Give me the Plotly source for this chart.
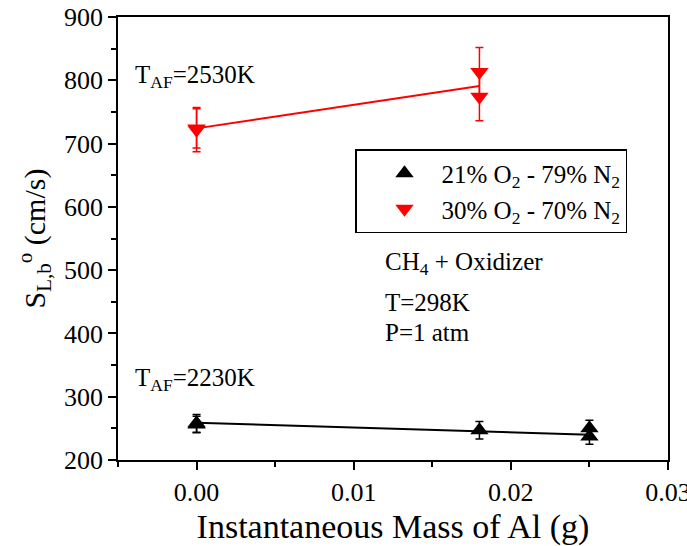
import plotly.graph_objects as go

# Laminar burning velocity vs. instantaneous Al mass
# 21% O2 - 79% N2 oxidizer
air_mass = [0.0, 0.0, 0.018, 0.025, 0.025]
air_speed = [258, 256, 247, 250, 237]
air_err = [14, 13, 14, 13, 12]

# 30% O2 - 70% N2 oxidizer
enr_mass = [0.0, 0.0, 0.018, 0.018]
enr_speed = [722, 724, 813, 774]
enr_err = [35, 31, 39, 38]

# Linear fits (end points)
air_fit_x = [0.0, 0.025]
air_fit_y = [259, 240]
enr_fit_x = [0.0, 0.018]
enr_fit_y = [724, 791]

# Axis ticks
x_ticks = [0.0, 0.01, 0.02, 0.03]
x_ticklabels = ["0.00", "0.01", "0.02", "0.03"]
x_minor = [-0.005, 0.005, 0.015, 0.025]
y_ticks = [200, 300, 400, 500, 600, 700, 800, 900]
y_minor = [250, 350, 450, 550, 650, 750, 850]

FONT = "Liberation Serif"

fig = go.Figure()

fig.add_trace(go.Scatter(x=air_fit_x, y=air_fit_y, mode="lines",
                         line=dict(color="black", width=2), showlegend=False,
                         hoverinfo="skip"))
fig.add_trace(go.Scatter(x=enr_fit_x, y=enr_fit_y, mode="lines",
                         line=dict(color="#ff0000", width=2), showlegend=False,
                         hoverinfo="skip"))

fig.add_trace(go.Scatter(
    x=air_mass, y=air_speed, mode="markers",
    name="21% O<sub>2</sub> - 79% N<sub>2</sub>",
    marker=dict(symbol="triangle-up", size=16, color="black"),
    error_y=dict(type="data", array=air_err, visible=True,
                 color="black", thickness=1.5, width=4),
))
fig.add_trace(go.Scatter(
    x=enr_mass, y=enr_speed, mode="markers",
    name="30% O<sub>2</sub> - 70% N<sub>2</sub>",
    marker=dict(symbol="triangle-down", size=16, color="#ff0000"),
    error_y=dict(type="data", array=enr_err, visible=True,
                 color="#ff0000", thickness=1.5, width=4),
))

axis_common = dict(
    showline=True, linecolor="black", linewidth=1.5, mirror=True,
    ticks="outside", ticklen=8, tickwidth=1.5, tickcolor="black",
    showgrid=False, zeroline=False, automargin=False,
    ticklabeloverflow="allow",
    tickfont=dict(family=FONT, size=26, color="black"),
)

fig.update_xaxes(
    range=[-0.005, 0.0300001], tickvals=x_ticks, ticktext=x_ticklabels,
    minor=dict(tickvals=x_minor, ticks="outside",
               ticklen=5, tickwidth=1.5, tickcolor="black"),
    title=dict(text="Instantaneous Mass of Al (g)",
               font=dict(family=FONT, size=34, color="black"), standoff=9),
    **axis_common,
)
fig.update_yaxes(
    range=[200, 900], tickvals=y_ticks,
    minor=dict(tickvals=y_minor, ticks="outside",
               ticklen=5, tickwidth=1.5, tickcolor="black"),
    title=dict(text="S<sub>L,b</sub><sup>o</sup> (cm/s)",
               font=dict(family=FONT, size=30, color="black"), standoff=10),
    **axis_common,
)

ann_font = dict(family=FONT, size=25, color="black")
annotations = [
    dict(text="T<sub>AF</sub>=2530K", x=133, y=88),
    dict(text="T<sub>AF</sub>=2230K", x=133, y=391),
    dict(text="CH<sub>4</sub> + Oxidizer", x=383, y=275),
    dict(text="T=298K", x=383, y=312),
    dict(text="P=1 atm", x=383, y=342),
]
W, H = 687, 546
L, R, T, B = 118, 19, 17, 86
pw, ph = W - L - R, H - T - B
for a in annotations:
    fig.add_annotation(
        text=a["text"], xref="paper", yref="paper",
        x=(a["x"] - L) / pw, y=(H - B - a["y"]) / ph,
        xanchor="left", yanchor="bottom", showarrow=False,
        font=ann_font, yshift=-6,
    )

fig.update_layout(
    width=W, height=H,
    margin=dict(l=L, r=R, t=T, b=B, autoexpand=False),
    paper_bgcolor="white", plot_bgcolor="white",
    font=dict(family=FONT, color="black"),
    legend=dict(
        x=(355 - L) / pw, y=(H - B - 149) / ph, xanchor="left", yanchor="top",
        bordercolor="black", borderwidth=1.5, bgcolor="white",
        font=dict(family=FONT, size=25, color="black"),
        itemwidth=64, indentation=11,
    ),
)

fig.write_html("out.html")
